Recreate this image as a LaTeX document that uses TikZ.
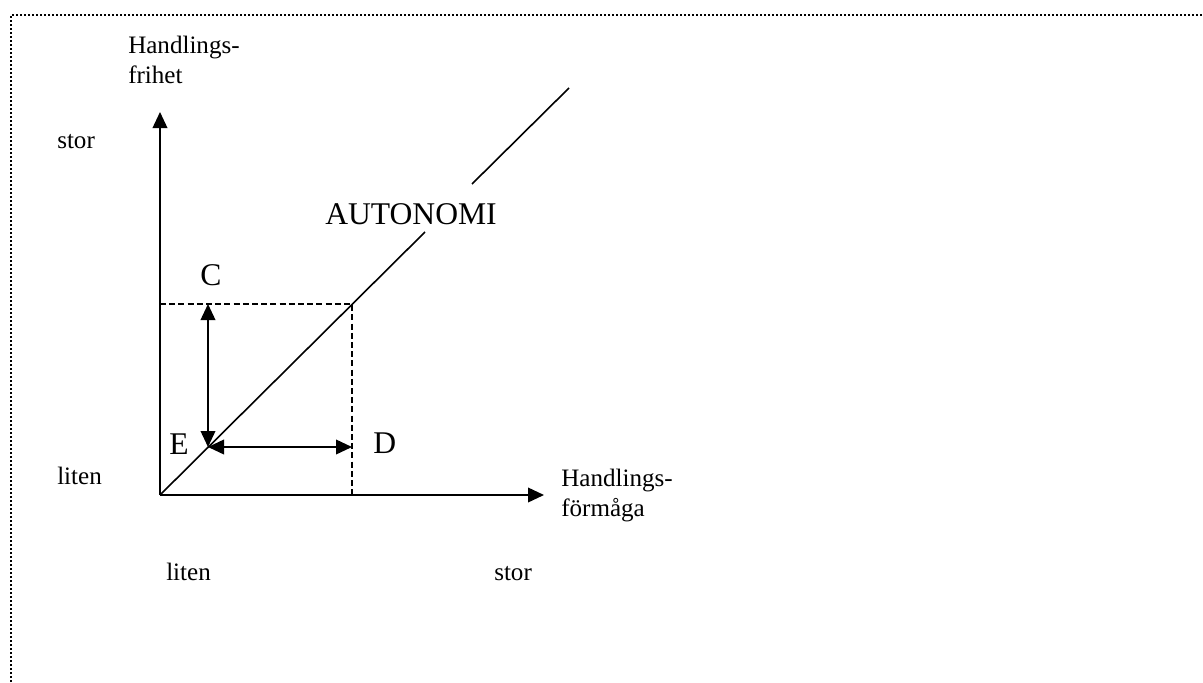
\documentclass[tikz,border=0pt]{standalone}
\usepackage{fontspec}
\setmainfont{Liberation Serif}
\usetikzlibrary{arrows.meta}
\begin{document}
\begin{tikzpicture}[x=0.75pt,y=-0.75pt,
  small/.style={font=\fontsize{18.8pt}{22pt}\selectfont,inner sep=0pt,anchor=base west,align=left},
  big/.style={font=\fontsize{23.7pt}{28pt}\selectfont,inner sep=0pt,anchor=base west},
  tip/.style={Triangle[length=12pt,width=11pt]},
  axis/.style={line width=1.2pt,-{Triangle[length=12pt,width=11pt]}},
  twoway/.style={line width=1.2pt,{Triangle[length=12pt,width=11pt]}-{Triangle[length=12pt,width=11pt]}},
  guide/.style={line width=1.1pt,dash pattern=on 4.5pt off 2.4pt},
  frame/.style={line width=1.7pt,dash pattern=on 1.5pt off 1.5pt}]
\useasboundingbox (0,0) rectangle (1203,682);
% frame
\coordinate (fb) at (11,682);
\coordinate (fc) at (11,15);
\coordinate (fr) at (1203,15);
\draw[frame] (fb) -- (fc) -- (fr);
% key points
\coordinate (O) at (160,495);
\coordinate (Ytop) at (160,112);
\coordinate (Xend) at (544,495);
\coordinate (P) at (352,304);
\coordinate (Py) at (160,304);
\coordinate (Px) at (352,495);
\coordinate (Ct) at (208,304);
\coordinate (Ep) at (208,447);
\coordinate (Dp) at (352,447);
\coordinate (g1) at (425,232);
\coordinate (g2) at (472,184);
\coordinate (g3) at (569,88);
% axes
\draw[axis] (O) -- (Ytop);
\draw[axis] (O) -- (Xend);
% dashed guides
\draw[guide] (Py) -- (P) -- (Px);
% diagonal
\draw[line width=1.2pt] (O) -- (g1);
\draw[line width=1.2pt] (g2) -- (g3);
% double arrows
\draw[twoway] (Ct) -- (Ep);
\draw[twoway] (Ep) -- (Dp);
% labels (base anchor = last line)
\node[small] (yl) at (128,83) {Handlings-\\frihet};
\node[small] (xl) at (561,516) {Handlings-\\förmåga};
\node[small] (ys) at (57,148) {stor};
\node[small] (yli) at (57,484) {liten};
\node[small] (xli) at (166,580) {liten};
\node[small] (xs) at (494,580) {stor};
\node[big] (aut) at (325,224) {AUTONOMI};
\node[big] (C) at (200,285) {C};
\node[big] (D) at (373,453) {D};
\node[big] (E) at (169,454) {E};
\end{tikzpicture}
\end{document}
